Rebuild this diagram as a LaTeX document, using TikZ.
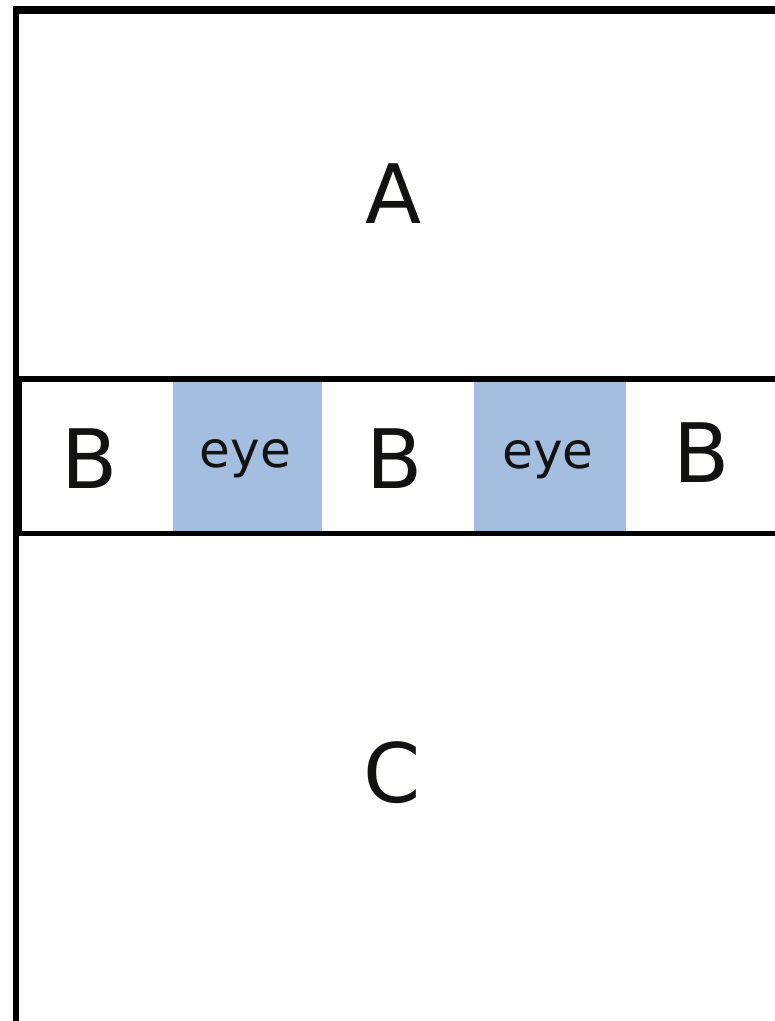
\documentclass[tikz,border=0pt]{standalone}
\usepackage{fontspec}
\setmainfont{DejaVu Sans}
\definecolor{eyeblue}{RGB}{163,190,223}
\definecolor{ink}{RGB}{18,18,16}
\begin{document}
\begin{tikzpicture}[x=1pt, y=-1pt,
  big/.style={font=\fontsize{82}{82}\selectfont, text=ink, anchor=base, inner sep=0pt},
  small/.style={font=\fontsize{50}{50}\selectfont, text=ink, anchor=base, inner sep=0pt}]
\useasboundingbox (0,0) rectangle (775,1021);
\clip (0,0) rectangle (775,1021);
% eye boxes
\foreach \xa/\xb in {173/322, 474/626} \fill[eyeblue] (\xa,382) rectangle (\xb,531);
% outer frame
\draw[line width=6] (16,1030)--(16,9.5);
\draw[line width=8] (13,9.5)--(790,9.5);
% middle strip
\draw[line width=6] (19,378.5)--(790,378.5);
\draw[line width=5] (19,533.5)--(790,533.5);
\draw[line width=3] (20.5,376)--(20.5,536);
% labels
\node[big] (A) at (393.5,223) {A};
\node[big] (B1) at (90,488) {B};
\node[big] (B2) at (395,488) {B};
\node[big] (B3) at (702,482) {B};
\node[small] (E1) at (245.5,467) {eye};
\node[small] (E2) at (548,468) {eye};
\node[big] (C) at (392.5,802) {C};
\end{tikzpicture}
\end{document}
